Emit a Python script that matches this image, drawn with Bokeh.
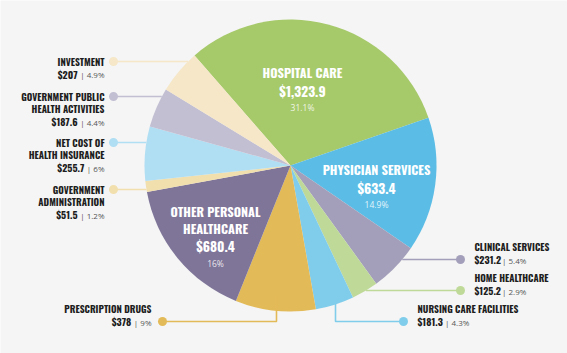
import math
from bokeh.plotting import figure
from bokeh.models import Range1d, ColumnDataSource
from bokeh.embed import file_html
from bokeh.resources import INLINE
from bokeh.core.properties import value

W, H = 567, 353

# ---------------- data ----------------
categories = ["HOSPITAL CARE", "PHYSICIAN SERVICES", "CLINICAL SERVICES", "HOME HEALTHCARE",
              "NURSING CARE FACILITIES", "PRESCRIPTION DRUGS", "OTHER PERSONAL\nHEALTHCARE",
              "GOVERNMENT\nADMINISTRATION", "NET COST OF\nHEALTH INSURANCE",
              "GOVERNMENT PUBLIC\nHEALTH ACTIVITIES", "INVESTMENT"]
values = [1323.9, 633.4, 231.2, 125.2, 181.3, 378, 680.4, 51.5, 255.7, 187.6, 207]
pct_labels = ["31.1%", "14.9%", "5.4%", "2.9%", "4.3%", "9%", "16%", "1.2%", "6%", "4.4%", "4.9%"]
colors = ["#a6c96a", "#5bbde6", "#a39fbb", "#bfda98", "#80cdeb", "#e3ba58", "#7f7599",
          "#f1dfad", "#b0def3", "#c3bfd3", "#f5e7c7"]

def money(v):
    return "$" + (f"{v:,.0f}" if v == int(v) else f"{v:,.1f}")

value_labels = [money(v) for v in values]

# ---------------- styling ----------------
FONT = "Oswald"
PFONT = "Open Sans"
BG = "#f5f5f5"
DARK = "#1e1e1e"
GREY = "#555555"

def py(y):  # pixel row -> data y
    return H - y

p = figure(width=W, height=H, x_range=Range1d(0, W), y_range=Range1d(0, H),
           output_backend="svg", toolbar_location=None, min_border=0)
p.axis.visible = False
p.grid.visible = False
p.outline_line_color = None
p.background_fill_color = BG
p.border_fill_color = BG

cx, cy, R = 290, py(165), 146
total = sum(values)
a = math.radians(131.1)
starts, ends = [], []
for v in values:
    da = 2 * math.pi * v / total
    ends.append(a)
    starts.append(a - da)
    a -= da

src = ColumnDataSource(dict(start=starts, end=ends, color=colors))
p.wedge(x=cx, y=cy, radius=R, start_angle="start", end_angle="end",
        fill_color="color", line_color=None, source=src)

def edge_x(ypix, side):
    dy = (H - ypix) - cy
    dx = math.sqrt(max(R * R - dy * dy, 0))
    return cx - dx if side == "left" else cx + dx

def w_oswald(s, size):
    w = 0.0
    for ch in s:
        w += 0.2 if ch in ".," else 0.46
    return w * size

def w_pct(s, size):
    tbl = {"|": 0.55, " ": 0.26, "%": 0.83, ".": 0.27}
    return sum(tbl.get(ch, 0.572) for ch in s) * size

NAME_SIZE = 9.5
VAL_SIZE = 10
PCT_SIZE = 8
LH = 12.7

def txt(x, y, s, size, color, align, font=FONT, bold=True, alpha=1.0):
    p.text(x=[x], y=[py(y)], text=[s], text_font=value(font), text_font_size=f"{size}px",
           text_font_style="bold" if bold else "normal", text_color=color, text_alpha=alpha,
           text_align=align, text_baseline="middle")

# outer labels: (index, dot x, dot y, side, elbow)
outer = [
    (10, 113, 61, "left", None),
    (9, 113, 96, "left", None),
    (8, 113, 142, "left", None),
    (7, 113, 189, "left", None),
    (2, 460, 259, "right", None),
    (3, 460, 290, "right", None),
    (4, 403, 321, "rightlow", (335, 297)),
    (5, 162, 321, "leftlow", (276, 295)),
]

for idx, dx_, dy_, side, elbow in outer:
    col = colors[idx]
    if elbow is None:
        ex = edge_x(dy_, "left" if side == "left" else "right")
        p.line(x=[dx_, ex], y=[py(dy_), py(dy_)], line_color=col, line_width=1.6)
    else:
        p.line(x=[dx_, elbow[0], elbow[0]], y=[py(dy_), py(dy_), py(elbow[1])],
               line_color=col, line_width=1.6)
    p.scatter(x=[dx_], y=[py(dy_)], size=9, fill_color=col, line_color=None)

    names = categories[idx].split("\n")
    vl = value_labels[idx]
    pl = "| " + pct_labels[idx]
    if side in ("left", "leftlow"):
        xr = 104 if side == "left" else 151
        if side == "left":
            ys = [dy_ + k * LH for k in range(len(names) + 1)]
        else:
            ys = [dy_ - LH * (len(names) - k) for k in range(len(names))] + [dy_]
        for n, yy in zip(names, ys):
            txt(xr, yy, n, NAME_SIZE, DARK, "right")
        txt(xr, ys[-1] + 0.5, pl, PCT_SIZE, GREY, "right", font=PFONT, bold=False)
        txt(xr - w_pct(pl, PCT_SIZE) - 2.5, ys[-1], vl, VAL_SIZE, DARK, "right")
    else:
        xl = dx_ + 14
        ys = [dy_ - LH * (len(names) - k) for k in range(len(names))] + [dy_]
        for n, yy in zip(names, ys):
            txt(xl, yy, n, NAME_SIZE, DARK, "left")
        txt(xl, dy_, vl, VAL_SIZE, DARK, "left")
        txt(xl + w_oswald(vl, VAL_SIZE) + 2.5, dy_ + 0.5, pl, PCT_SIZE, GREY, "left",
            font=PFONT, bold=False)

# inner labels: (index, x, first line y)
inner = [(0, 302, 72), (1, 376, 169), (6, 215, 211)]
for idx, x, y0 in inner:
    names = categories[idx].split("\n")
    yy = y0
    for n in names:
        txt(x, yy, n, 12.5, "white", "center")
        yy += 16.5
    yy += 1.5
    txt(x, yy, value_labels[idx], 13.5, "white", "center")
    txt(x, yy + 17, pct_labels[idx], 8.5, "white", "center", font=PFONT, bold=False, alpha=0.85)

open("out.html", "w").write(file_html(p, INLINE))
